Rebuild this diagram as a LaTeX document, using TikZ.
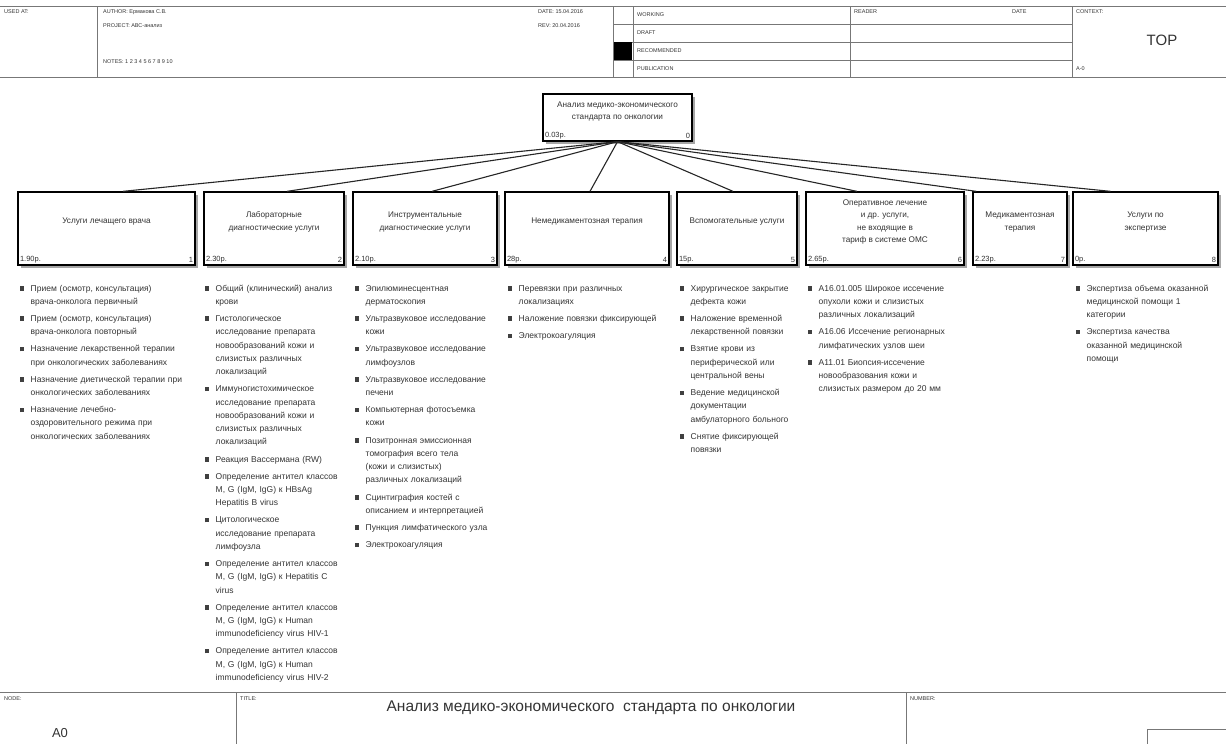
\documentclass[tikz,border=0pt]{standalone}
\usepackage{fontspec}
\setmainfont{Liberation Sans}
\usetikzlibrary{positioning}
\usetikzlibrary{calc, shadows}

\newcommand{\litem}[1]{\par\hangindent=11pt\hangafter=1\noindent\makebox[11pt][l]{\textcolor{black!75}{\rule[0.5pt]{4.5pt}{4.5pt}}}#1\par\vspace{3.8pt}}

\begin{document}
\begin{tikzpicture}[x=1pt, y=-1pt]
\definecolor{framecolor}{HTML}{777777}
\definecolor{inkcolor}{HTML}{333333}
\tikzstyle{frame}=[framecolor, line width=1pt]
\tikzstyle{func}=[rectangle, draw=black, line width=1.3pt, fill=white,
drop shadow={shadow xshift=3pt, shadow yshift=-3pt, fill=gray!70, opacity=1}]
\tikzstyle{boxtext}=[inkcolor, align=center, font=\fontsize{8.2}{12.5}\selectfont, inner sep=0pt]
\tikzstyle{cost}=[inkcolor, font=\fontsize{7.5}{8}\selectfont, inner sep=2.5pt]
\tikzstyle{itemlist}=[inkcolor, anchor=north west, align=left, inner sep=0pt, font=\fontsize{8.5}{13.3}\selectfont]
\tikzstyle{head}=[inkcolor, anchor=west, inner sep=0pt, font=\fontsize{5.5}{6}\selectfont]
\tikzstyle{link}=[black!85, line width=1.1pt]

\useasboundingbox (0,0) rectangle (1226,744);

% header frame
\draw[frame] (0,6) -- (1226,6);
\draw[frame] (0,77) -- (1226,77);
\draw[frame] (97,6) -- (97,77);
\draw[frame] (613,6) -- (613,77);
\draw[frame] (633,6) -- (633,77);
\draw[frame] (850,6) -- (850,77);
\draw[frame] (1072,6) -- (1072,77);
\draw[frame] (613,24) -- (1072,24);
\draw[frame] (613,42) -- (1072,42);
\draw[frame] (613,60) -- (1072,60);
\fill[black] (614,42) rectangle (632,60);

\node[head] (usedat) at (4,12) {USED AT:};
\node[head] (author) at (103,12) {AUTHOR:  Ермакова С.В.};
\node[head] (project) at (103,26) {PROJECT:  АВС-анализ};
\node[head] (notes) at (103,62) {NOTES:  1  2  3  4  5  6  7  8  9  10};
\node[head] (date) at (538,12) {DATE:  15.04.2016};
\node[head] (rev) at (538,26) {REV:  20.04.2016};
\node[head] (working) at (637,15) {WORKING};
\node[head] (draft) at (637,33) {DRAFT};
\node[head] (recommended) at (637,51) {RECOMMENDED};
\node[head] (publication) at (637,69) {PUBLICATION};
\node[head] (reader) at (854,12) {READER};
\node[head] (rdate) at (1012,12) {DATE};
\node[head] (context) at (1076,12) {CONTEXT:};
\node[inkcolor, font=\fontsize{15}{16}\selectfont] (top) at (1162,40) {TOP};
\node[head] (ctxnode) at (1076,69) {A-0};

% parent box
\node[func, minimum width=149, minimum height=47] (A0) at (617.5,117.5) {};
\node[boxtext] (A0t) at ([yshift=6pt]A0.center) {Анализ медико-экономического\\стандарта по онкологии};
\node[cost, anchor=south west] (A0c) at (A0.south west) {0.03р.};
\node[cost, anchor=south east] (A0n) at (A0.south east) {0};

% child boxes
\node[func, minimum width=177, minimum height=73] (A1) at (106.5,228.5) {};
\node[func, minimum width=140, minimum height=73] (A2) at (274,228.5) {};
\node[func, minimum width=144, minimum height=73] (A3) at (425,228.5) {};
\node[func, minimum width=164, minimum height=73] (A4) at (587,228.5) {};
\node[func, minimum width=120, minimum height=73] (A5) at (737,228.5) {};
\node[func, minimum width=158, minimum height=73] (A6) at (885,228.5) {};
\node[func, minimum width=94, minimum height=73] (A7) at (1020,228.5) {};
\node[func, minimum width=145, minimum height=73] (A8) at (1145.5,228.5) {};

\node[boxtext] (A1t) at ([yshift=6.5pt]A1.center) {Услуги лечащего врача};
\node[boxtext] (A2t) at ([yshift=6.5pt]A2.center) {Лабораторные\\диагностические услуги};
\node[boxtext] (A3t) at ([yshift=6.5pt]A3.center) {Инструментальные\\диагностические услуги};
\node[boxtext] (A4t) at ([yshift=6.5pt]A4.center) {Немедикаментозная терапия};
\node[boxtext] (A5t) at ([yshift=6.5pt]A5.center) {Вспомогательные услуги};
\node[boxtext] (A6t) at ([yshift=6.5pt]A6.center) {Оперативное лечение\\и др. услуги,\\не входящие в\\тариф в системе ОМС};
\node[boxtext] (A7t) at ([yshift=6.5pt]A7.center) {Медикаментозная\\терапия};
\node[boxtext] (A8t) at ([yshift=6.5pt]A8.center) {Услуги по\\экспертизе};

\node[cost, anchor=south west] (A1c) at (A1.south west) {1.90р.};
\node[cost, anchor=south west] (A2c) at (A2.south west) {2.30р.};
\node[cost, anchor=south west] (A3c) at (A3.south west) {2.10р.};
\node[cost, anchor=south west] (A4c) at (A4.south west) {28р.};
\node[cost, anchor=south west] (A5c) at (A5.south west) {15р.};
\node[cost, anchor=south west] (A6c) at (A6.south west) {2.65р.};
\node[cost, anchor=south west] (A7c) at (A7.south west) {2.23р.};
\node[cost, anchor=south west] (A8c) at (A8.south west) {0р.};
\node[cost, anchor=south east] (A1n) at (A1.south east) {1};
\node[cost, anchor=south east] (A2n) at (A2.south east) {2};
\node[cost, anchor=south east] (A3n) at (A3.south east) {3};
\node[cost, anchor=south east] (A4n) at (A4.south east) {4};
\node[cost, anchor=south east] (A5n) at (A5.south east) {5};
\node[cost, anchor=south east] (A6n) at (A6.south east) {6};
\node[cost, anchor=south east] (A7n) at (A7.south east) {7};
\node[cost, anchor=south east] (A8n) at (A8.south east) {8};

% decomposition links
\draw[link] (A0.south) -- ([xshift=16.5pt]A1.north);
\draw[link] (A0.south) -- ([xshift=13pt]A2.north);
\draw[link] (A0.south) -- ([xshift=7pt]A3.north);
\draw[link] (A0.south) -- ([xshift=3pt]A4.north);
\draw[link] (A0.south) -- ([xshift=-4pt]A5.north);
\draw[link] (A0.south) -- ([xshift=-28pt]A6.north);
\draw[link] (A0.south) -- ([xshift=4pt]A7.north west);
\draw[link] (A0.south) -- ([xshift=-35pt]A8.north);

% lists of services
\node[itemlist, text width=175pt] (L1) at (19.5,277.5) {%
\litem{Прием (осмотр, консультация)\newline врача-онколога первичный}%
\litem{Прием (осмотр, консультация)\newline врача-онколога повторный}%
\litem{Назначение лекарственной терапии\newline при онкологических заболеваниях}%
\litem{Назначение диетической терапии при\newline онкологических заболеваниях}%
\litem{Назначение лечебно-\newline оздоровительного режима при\newline онкологических заболеваниях}};

\node[itemlist, text width=145pt] (L2) at (204.5,277.5) {%
\litem{Общий (клинический) анализ\newline крови}%
\litem{Гистологическое\newline исследование препарата\newline новообразований кожи и\newline слизистых различных\newline локализаций}%
\litem{Иммуногистохимическое\newline исследование препарата\newline новообразований кожи и\newline слизистых различных\newline локализаций}%
\litem{Реакция Вассермана (RW)}%
\litem{Определение антител классов\newline M, G (IgM, IgG) к HBsAg\newline Hepatitis B virus}%
\litem{Цитологическое\newline исследование препарата\newline лимфоузла}%
\litem{Определение антител классов\newline M, G (IgM, IgG) к Hepatitis C\newline virus}%
\litem{Определение антител классов\newline M, G (IgM, IgG) к Human\newline immunodeficiency virus HIV-1}%
\litem{Определение антител классов\newline M, G (IgM, IgG) к Human\newline immunodeficiency virus HIV-2}};

\node[itemlist, text width=150pt] (L3) at (354.5,277.5) {%
\litem{Эпилюминесцентная\newline дерматоскопия}%
\litem{Ультразвуковое исследование\newline кожи}%
\litem{Ультразвуковое исследование\newline лимфоузлов}%
\litem{Ультразвуковое исследование\newline печени}%
\litem{Компьютерная фотосъемка\newline кожи}%
\litem{Позитронная эмиссионная\newline томография всего тела\newline (кожи и слизистых)\newline различных локализаций}%
\litem{Сцинтиграфия костей с\newline описанием и интерпретацией}%
\litem{Пункция лимфатического узла}%
\litem{Электрокоагуляция}};

\node[itemlist, text width=165pt] (L4) at (507.5,277.5) {%
\litem{Перевязки при различных\newline локализациях}%
\litem{Наложение повязки фиксирующей}%
\litem{Электрокоагуляция}};

\node[itemlist, text width=125pt] (L5) at (679.5,277.5) {%
\litem{Хирургическое закрытие\newline дефекта кожи}%
\litem{Наложение временной\newline лекарственной повязки}%
\litem{Взятие крови из\newline периферической или\newline центральной вены}%
\litem{Ведение медицинской\newline документации\newline амбулаторного больного}%
\litem{Снятие фиксирующей\newline повязки}};

\node[itemlist, text width=160pt] (L6) at (807.5,277.5) {%
\litem{A16.01.005 Широкое иссечение\newline опухоли кожи и слизистых\newline различных локализаций}%
\litem{A16.06 Иссечение регионарных\newline лимфатических узлов шеи}%
\litem{A11.01 Биопсия-иссечение\newline новообразования кожи и\newline слизистых размером до 20 мм}};

\node[itemlist, text width=145pt] (L8) at (1075.5,277.5) {%
\litem{Экспертиза объема оказанной\newline медицинской помощи 1\newline категории}%
\litem{Экспертиза качества\newline оказанной медицинской\newline помощи}};

% footer frame
\draw[frame] (0,692) -- (1226,692);
\draw[frame] (236,692) -- (236,744);
\draw[frame] (906,692) -- (906,744);
\draw[frame] (1147,744) -- (1147,729) -- (1226,729);
\node[head] (nodelbl) at (4,699) {NODE:};
\node[inkcolor, font=\fontsize{13}{14}\selectfont] (nodeval) at (60,733) {A0};
\node[head] (titlelbl) at (240,699) {TITLE:};
\node[inkcolor, font=\fontsize{15.5}{16}\selectfont] (title) at (591,708) {Анализ медико-экономического \ стандарта по онкологии};
\node[head] (numberlbl) at (910,699) {NUMBER:};
\end{tikzpicture}
\end{document}
